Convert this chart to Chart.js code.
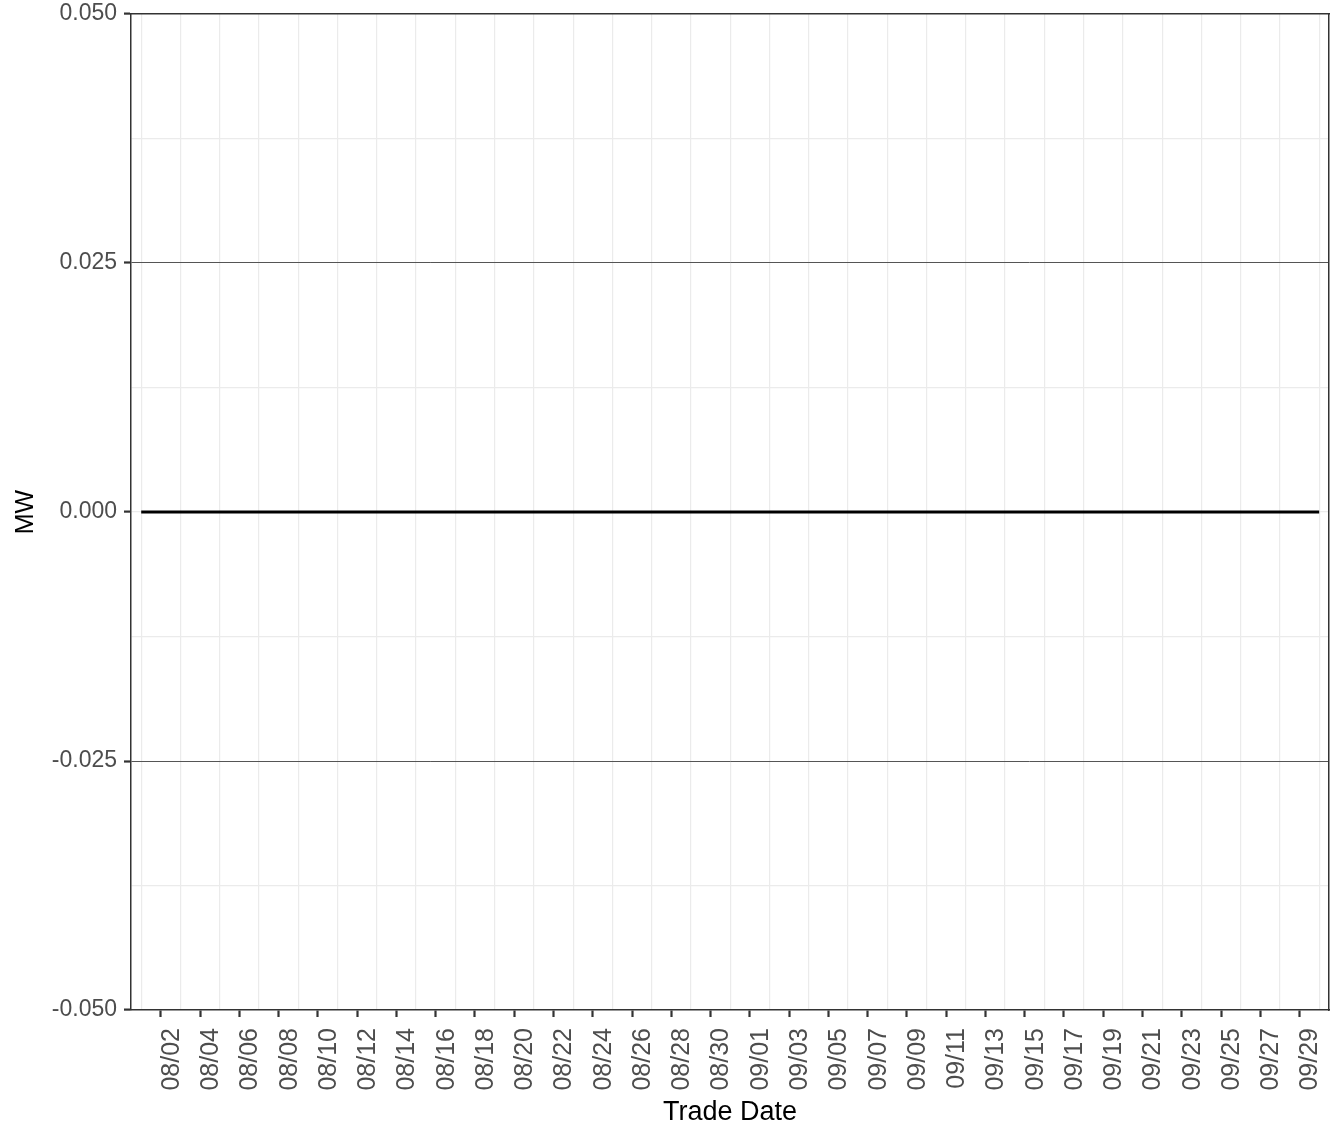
<!DOCTYPE html>
<html>
<head>
<meta charset="utf-8">
<script src="https://cdn.jsdelivr.net/npm/chart.js@4.4.1/dist/chart.umd.min.js"></script>
<style>
  html, body { margin: 0; padding: 0; background: #ffffff; }
  #wrap { width: 1344px; height: 1142px; position: relative; }
</style>
</head>
<body>
<div id="wrap"><canvas id="c" width="1344" height="1142"></canvas></div>
<script>
// ---- Data ----
const tradeDates = [
  '08/01','08/02','08/03','08/04','08/05','08/06','08/07','08/08','08/09','08/10',
  '08/11','08/12','08/13','08/14','08/15','08/16','08/17','08/18','08/19','08/20',
  '08/21','08/22','08/23','08/24','08/25','08/26','08/27','08/28','08/29','08/30',
  '08/31','09/01','09/02','09/03','09/04','09/05','09/06','09/07','09/08','09/09',
  '09/10','09/11','09/12','09/13','09/14','09/15','09/16','09/17','09/18','09/19',
  '09/20','09/21','09/22','09/23','09/24','09/25','09/26','09/27','09/28','09/29',
  '09/30'
];
const mwValues = [
  0,0,0,0,0,0,0,0,0,0,
  0,0,0,0,0,0,0,0,0,0,
  0,0,0,0,0,0,0,0,0,0,
  0,0,0,0,0,0,0,0,0,0,
  0,0,0,0,0,0,0,0,0,0,
  0,0,0,0,0,0,0,0,0,0,
  0
];
const xTickLabels = [
  '08/02','08/04','08/06','08/08','08/10','08/12','08/14','08/16','08/18','08/20',
  '08/22','08/24','08/26','08/28','08/30','09/01','09/03','09/05','09/07','09/09',
  '09/11','09/13','09/15','09/17','09/19','09/21','09/23','09/25','09/27','09/29'
];
const xGridDates = [
  '08/01','08/03','08/05','08/07','08/09','08/11','08/13','08/15','08/17','08/19',
  '08/21','08/23','08/25','08/27','08/29','08/31','09/02','09/04','09/06','09/08',
  '09/10','09/12','09/14','09/16','09/18','09/20','09/22','09/24','09/26','09/28',
  '09/30'
];
const yMajorTicks = [-0.05, -0.025, 0, 0.025, 0.05];
const yMinorTicks = [-0.0375, -0.0125, 0.0125, 0.0375];
const yMin = -0.05, yMax = 0.05;

// ---- Chart ----
const FONT = "'Liberation Sans', Arial, Helvetica, sans-serif";
const xMin = -0.52, xMax = 60.5;
const isMajor = v => yMajorTicks.some(m => Math.abs(m - v) < 1e-9);
const noPad = s => { s.paddingTop = 0; s.paddingBottom = 0; s.paddingLeft = 0; s.paddingRight = 0; };

new Chart(document.getElementById('c'), {
  type: 'line',
  data: {
    datasets: [{
      label: 'MW',
      data: tradeDates.map((d, i) => ({ x: i, y: mwValues[i] })),
      borderColor: '#000000',
      borderWidth: 3,
      pointRadius: 0,
      fill: false,
      tension: 0
    }]
  },
  options: {
    responsive: false,
    animation: false,
    devicePixelRatio: 1,
    layout: { padding: { top: 14, right: 15, bottom: 0, left: 0 } },
    plugins: { legend: { display: false }, tooltip: { enabled: false } },
    scales: {
      x: {
        type: 'linear',
        position: 'bottom',
        min: xMin, max: xMax,
        afterBuildTicks: s => { s.ticks = xTickLabels.map(l => ({ value: tradeDates.indexOf(l) })); },
        afterFit: s => { s.height = 132; noPad(s); },
        ticks: {
          autoSkip: false,
          minRotation: 90, maxRotation: 90,
          padding: 11,
          labelOffset: 11,
          color: '#4d4d4d',
          font: { family: FONT, size: 25 },
          callback: v => tradeDates[v]
        },
        grid: {
          drawOnChartArea: false,
          drawTicks: true,
          tickLength: 7,
          tickColor: '#333333',
          tickWidth: 2.2
        },
        border: { display: true, color: '#333333', width: 1.5 },
        title: {
          display: true,
          text: 'Trade Date',
          color: '#000000',
          font: { family: FONT, size: 27 },
          padding: { top: 0, bottom: 13 }
        }
      },
      xg: {
        type: 'linear',
        position: 'bottom',
        min: xMin, max: xMax,
        afterBuildTicks: s => { s.ticks = xGridDates.map(l => ({ value: tradeDates.indexOf(l) })); },
        afterFit: s => { s.height = 0; noPad(s); },
        ticks: { display: false },
        grid: { drawOnChartArea: true, drawTicks: false, color: '#ebebeb', lineWidth: 1.2 },
        border: { display: false }
      },
      xt: {
        type: 'linear',
        position: 'top',
        min: xMin, max: xMax,
        afterFit: s => { s.height = 0; noPad(s); },
        ticks: { display: false },
        grid: { drawOnChartArea: false, drawTicks: false },
        border: { display: true, color: '#333333', width: 1.5 }
      },
      y: {
        type: 'linear',
        position: 'left',
        min: yMin, max: yMax,
        afterBuildTicks: s => { s.ticks = yMajorTicks.concat(yMinorTicks).sort((a, b) => a - b).map(v => ({ value: v })); },
        afterFit: s => { s.width = 131; noPad(s); },
        ticks: {
          autoSkip: false,
          padding: 7,
          color: '#4d4d4d',
          font: { family: FONT, size: 23 },
          callback: v => isMajor(v) ? v.toFixed(3) : ''
        },
        grid: {
          drawOnChartArea: true,
          drawTicks: true,
          tickLength: 7,
          tickWidth: 2.2,
          tickColor: ctx => isMajor(ctx.tick.value) ? '#333333' : 'rgba(0,0,0,0)',
          color: ctx => {
            const v = ctx.tick.value;
            if (Math.abs(Math.abs(v) - 0.05) < 1e-9) return 'rgba(0,0,0,0)';
            if (Math.abs(Math.abs(v) - 0.025) < 1e-9) return '#555555';
            return '#ebebeb';
          },
          lineWidth: ctx => (Math.abs(Math.abs(ctx.tick.value) - 0.025) < 1e-9) ? 1 : 1.2
        },
        border: { display: true, color: '#333333', width: 1.5 },
        title: {
          display: true,
          text: 'MW',
          color: '#000000',
          font: { family: FONT, size: 25 },
          padding: { top: 11, bottom: 0 }
        }
      },
      yr: {
        type: 'linear',
        position: 'right',
        min: yMin, max: yMax,
        afterFit: s => { s.width = 0; noPad(s); },
        ticks: { display: false },
        grid: { drawOnChartArea: false, drawTicks: false },
        border: { display: true, color: '#333333', width: 1.5 }
      }
    }
  }
});
</script>
</body>
</html>
